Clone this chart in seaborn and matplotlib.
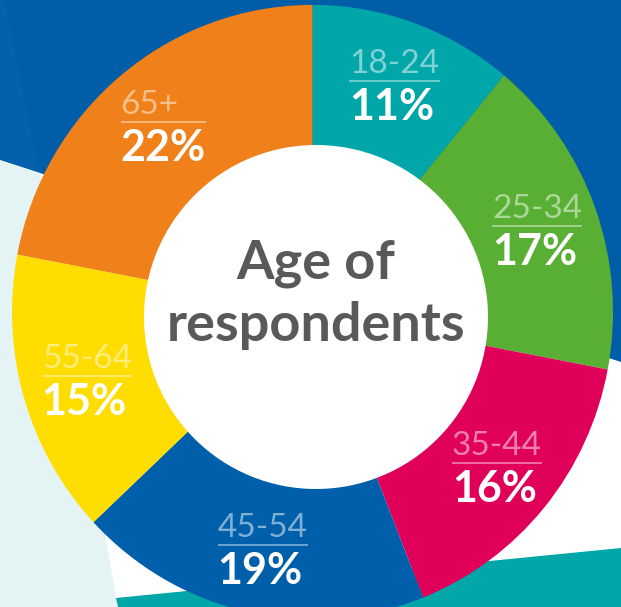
import numpy as np
import matplotlib
matplotlib.use('Agg')
import matplotlib.pyplot as plt
import seaborn as sns
from matplotlib.patches import Polygon, Circle
from matplotlib.transforms import Affine2D

# ---- data ----
age_groups = ['18-24', '25-34', '35-44', '45-54', '55-64', '65+']
shares = [11, 17, 16, 19, 15, 22]
pct_labels = [f'{v}%' for v in shares]
slice_colors = ['#00A6A8', '#59AF34', '#E0005A', '#005FAA', '#FFDD00', '#F08019']
center_title = ['Age of', 'respondents']

sns.set_theme(style='white')
plt.rcParams['font.family'] = ['Lato', 'DejaVu Sans']

W, H = 621, 607
fig = plt.figure(figsize=(W / 100, H / 100), dpi=100, facecolor='white')
ax = fig.add_axes([0, 0, 1, 1])

# ---- decorative background ----
ax.add_patch(Polygon([(0, 0), (W, 0), (W, 362), (0, 160)], closed=True,
                     facecolor='#005EA9', edgecolor='none', zorder=0))
ax.add_patch(Polygon([(0, 0), (5, 0), (40, 173), (0, 160)], closed=True,
                     facecolor='#0361AB', edgecolor='none', zorder=0.5))
ax.add_patch(Polygon([(0, 160), (40, 173), (118, H), (0, H)], closed=True,
                     facecolor='#E4F4F5', edgecolor='none', zorder=0.6))
ax.add_patch(Polygon([(116, 598), (W, 548), (W, H), (118, H)], closed=True,
                     facecolor='#00A6A8', edgecolor='none', zorder=0.6))

# ---- donut ----
cx, cy, R_out = 312.5, 312, 300.5
sy = 1.022                      # slight vertical stretch of the ring
hx, hy, R_in = 316, 317, 172    # hole
R_lab = 237
wedges, _ = ax.pie(shares, colors=slice_colors, startangle=-90, counterclock=True,
                   radius=R_out, center=(cx, cy),
                   wedgeprops=dict(edgecolor='none', linewidth=0),
                   frame=False)
stretch = Affine2D().translate(-cx, -cy).scale(1, sy).translate(cx, cy)
for w in wedges:
    w.set_zorder(2)
    w.set_transform(stretch + ax.transData)
ax.add_patch(Circle((hx, hy), R_in, facecolor='white', edgecolor='none', zorder=3))

ax.set_xlim(0, W)
ax.set_ylim(H, 0)
ax.set_aspect('auto')
ax.axis('off')

# ---- centre title ----
ax.text(hx, 279, center_title[0], fontsize=39, fontweight='bold', color='#595959',
        ha='center', va='baseline', zorder=6)
ax.text(hx, 341, center_title[1], fontsize=39, fontweight='bold', color='#595959',
        ha='center', va='baseline', zorder=6)

# ---- slice labels ----
fig.canvas.draw()
renderer = fig.canvas.get_renderer()
for w, grp, pct in zip(wedges, age_groups, pct_labels):
    mid = np.deg2rad((w.theta1 + w.theta2) / 2)
    lx = (cx + hx) / 2 + R_lab * np.cos(mid)
    ly = (cy + hy) / 2 + R_lab * sy * np.sin(mid)
    line_y = ly - 6
    t1 = ax.text(0, line_y - 8, grp, fontsize=24, color='white', alpha=0.5,
                 ha='left', va='baseline', zorder=6)
    t2 = ax.text(0, line_y + 39, pct, fontsize=31, fontweight='bold', color='white',
                 ha='left', va='baseline', zorder=6)
    w1 = t1.get_window_extent(renderer).width
    w2 = t2.get_window_extent(renderer).width
    wd = max(w1, w2)
    x0 = lx - wd / 2
    t1.set_x(x0)
    t2.set_x(x0)
    ax.plot([x0, x0 + wd], [line_y, line_y], color='white', alpha=0.5, lw=1.2,
            solid_capstyle='butt', zorder=6)

fig.savefig('out.png', dpi=100, facecolor='white')
